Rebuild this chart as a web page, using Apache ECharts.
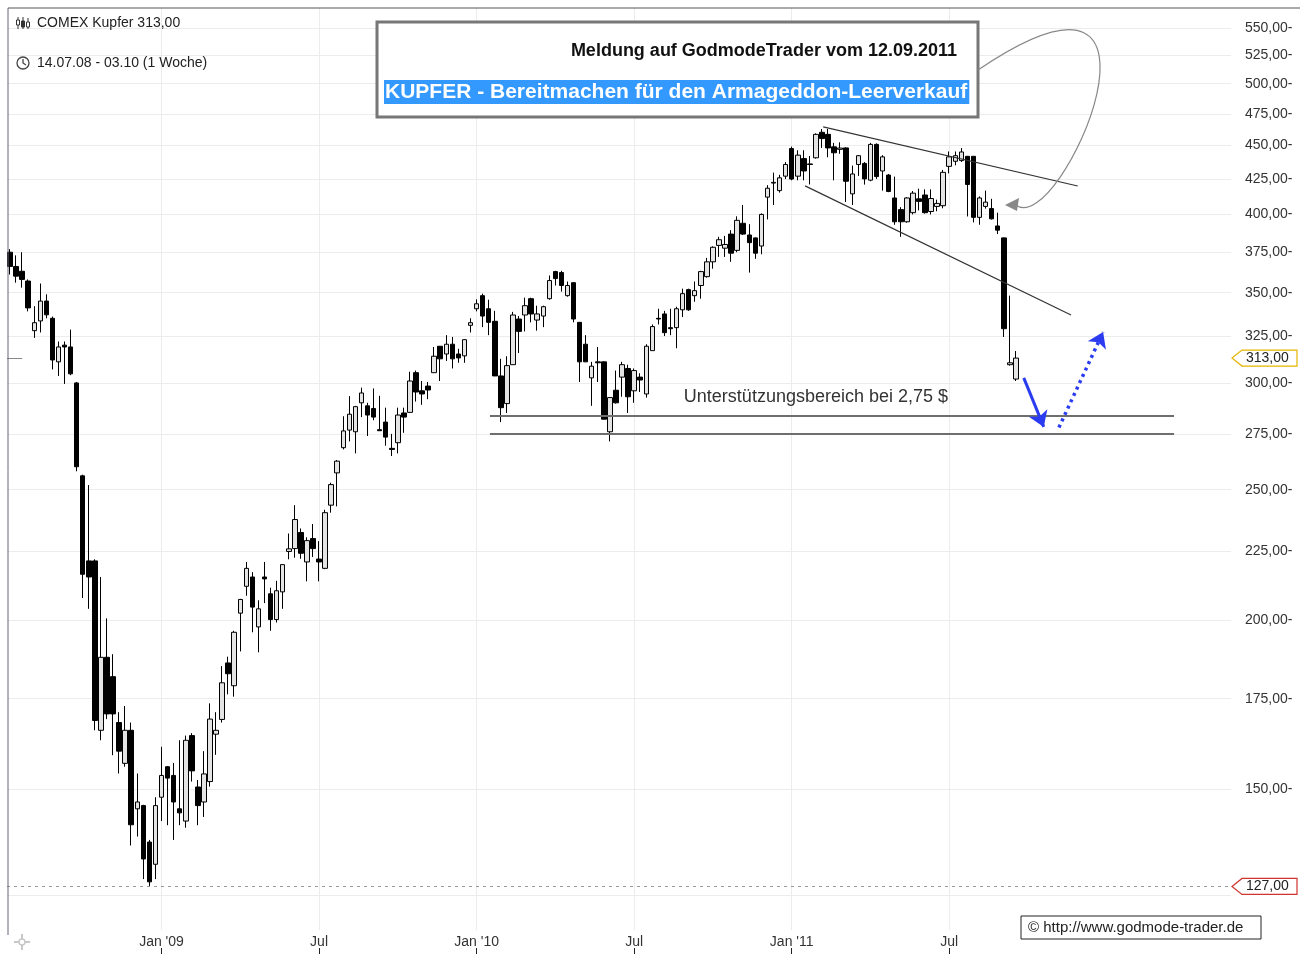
<!DOCTYPE html>
<html>
<head>
<meta charset="utf-8">
<script src="https://cdn.jsdelivr.net/npm/echarts@6/dist/echarts.min.js"></script>
<style>
  html, body { margin: 0; padding: 0; background: #fff; }
  #chart { width: 1304px; height: 954px; }
</style>
</head>
<body>
<div id="chart"></div>
<script>
// weekly candles, one row per week: [open, close, low, high]
const candles2008 = [
  [375, 366, 361, 377], [366, 360, 356, 373], [363, 358, 353, 375], [357, 341, 339, 358],
  [328, 332.5, 324, 342], [333.5, 345, 327, 355.5], [345, 337, 335, 349], [335, 312, 307, 336],
  [311, 319, 303.6, 322], [320, 319, 299.5, 322], [319, 304.7, 304, 328.6], [300, 260, 258, 300.5],
  [256, 216.4, 207.8, 256.5], [221.4, 215.4, 204, 252], [221.4, 168.6, 165.8, 222], [165.8, 187.8, 163, 215.4],
  [187.8, 170.5, 169, 200.7], [181.7, 170.5, 158.9, 188.8], [168, 160, 154, 171], [156.7, 165.8, 155.8, 172.8],
  [165.8, 141.1, 136.2, 168], [145, 146.7, 138.3, 154], [145.8, 133.1, 128.6, 146], [137, 128, 127, 137.5],
  [131.9, 145.8, 128.6, 147.9]
];
const candles2009 = [
  [147.9, 153.5, 142, 161.2], [155.8, 152.8, 141, 156], [153.5, 146.7, 137.5, 156.8], [145, 144, 141, 163],
  [142, 163, 140.4, 164.3], [164.3, 154.7, 151.9, 165], [150.5, 145.8, 141, 152.3], [146.7, 153.9, 143, 160],
  [151.9, 169, 150.6, 173.6], [164.7, 165.8, 159, 171], [168.9, 179.8, 168, 185], [186, 182.6, 176.3, 188],
  [178.9, 196, 175.6, 196.5], [202.5, 207.3, 189.7, 207.5], [212, 218.6, 208.6, 221], [215.4, 204.6, 196, 217.2],
  [197.8, 204, 189.4, 207], [215.4, 214.7, 206, 221], [209.3, 200.3, 196.5, 211.5], [200.3, 210.4, 199.3, 214],
  [210, 220, 204, 220.1], [225, 226, 222, 232], [226.1, 237.6, 222.6, 243.5], [232.4, 224.3, 222.2, 234],
  [221, 229.2, 213.8, 230.5], [230, 226.1, 222.9, 235.8], [222.1, 221, 213.8, 229], [218.6, 240.4, 218.3, 241.6],
  [243.5, 252.2, 240.4, 253], [257.3, 262.5, 243, 263], [268.6, 276.4, 267.8, 283.4], [276.8, 284.4, 271.5, 293.3],
  [276, 288.1, 266, 288.5], [290, 294.9, 283, 297.6], [288.5, 284, 274, 290], [287.2, 283, 281.5, 297.2],
  [277, 276.5, 276.5, 293.5], [280.6, 273.5, 269.5, 287.6], [268.3, 267.8, 264.8, 275], [270.9, 284, 266, 287.6],
  [285, 283, 275.5, 287.6], [285.3, 301, 285.3, 305.8], [305.3, 295.4, 290.6, 306.4], [296, 294.4, 289, 301],
  [298.4, 296.4, 291.8, 300.5], [305.3, 314, 305.3, 319], [319.4, 312.6, 301, 319.5], [315.2, 320.5, 311.5, 325.5],
  [320.5, 312.6, 307.5, 324.5], [315.2, 313.1, 310.5, 318], [314.2, 323, 310.5, 323.2], [331, 332.5, 327, 335]
];
const candles2010 = [
  [340.5, 343.4, 339, 346], [348.2, 336.3, 330, 349.4], [340.5, 332.7, 325.5, 345.8], [333.3, 303.6, 303.6, 339.3],
  [303.6, 287.6, 280.6, 312.6], [289.6, 309, 285, 314], [309.5, 336.9, 309.5, 338.7], [334.6, 327.6, 315.7, 336.3],
  [336.9, 342.3, 327.6, 347], [346.4, 337.5, 332.7, 347], [334, 337.5, 328, 342.3], [336.3, 341.7, 330, 342.3],
  [346.4, 357.3, 345.8, 360.4], [362.8, 358.5, 354.3, 363.3], [362.2, 354.3, 350.6, 363.3], [348.2, 354.3, 347.6, 356.7],
  [356, 334.6, 332.7, 356.2], [332.7, 311, 300.5, 332.8], [320.5, 311, 311, 325.5], [302.6, 308.7, 288.5, 311],
  [311, 310.5, 300.5, 319], [311, 282, 282, 311.2], [276, 292.6, 271.5, 292.6], [296.3, 290, 289.6, 306.4],
  [303, 309.5, 293, 311], [307.5, 293, 285, 309.5], [296, 306.4, 290, 307.5], [303, 301.5, 295.4, 305],
  [294.4, 319.4, 292.6, 320.5], [317, 330.3, 317, 331.5], [335, 334.6, 331.5, 340.5], [337.5, 326.9, 325, 339.3],
  [329.7, 329.1, 325.5, 340.5], [329.7, 340.5, 318.3, 341.7], [339.9, 349.4, 335.7, 352.4], [351.8, 339.9, 339.3, 352.4],
  [348.2, 351.2, 344.6, 356.7], [354.3, 362.8, 346.4, 363.3], [359.7, 368.9, 359.1, 371.4], [368.9, 378.2, 364.6, 378.8],
  [379.4, 383.1, 372, 385], [377.6, 380, 372, 385.6], [386.8, 374.4, 368.9, 389.4], [376.2, 396, 375, 398.7],
  [394, 386.8, 386.2, 406.5], [386.2, 381.2, 362.2, 393.4], [384.3, 374.4, 370.8, 384.5], [379, 400, 373.7, 400.7],
  [412, 418.3, 396.6, 420.5], [422, 422.5, 406.5, 429.6], [416.6, 425.8, 415.2, 428], [427, 435.6, 424.9, 437.4]
];
const candles2011 = [
  [447.6, 424.9, 424, 449.1], [427, 442.6, 424, 446.3], [440, 430.8, 424, 446.3], [436, 435.6, 421, 442],
  [440.6, 458.6, 440, 459.4], [460.2, 455.3, 448.1, 462.8], [458.6, 448.1, 441, 462.8], [448.9, 444.4, 424, 452],
  [447, 448, 443.6, 452.4], [448.1, 423.3, 408.6, 448.5], [414.3, 428.6, 406.5, 434.8], [435.6, 442.2, 427.2, 442.6],
  [436.4, 425, 420.9, 437.4], [424.1, 450.8, 423.3, 452], [450.8, 426.7, 425, 451.6], [430.8, 441.3, 416.6, 442.6],
  [427.8, 416, 415.5, 428.6], [411.4, 395, 393, 426.7], [403.3, 395, 385, 405], [395, 411.4, 394.4, 412],
  [401.2, 414.8, 400, 416.3], [410.8, 409, 402.8, 418], [413.5, 401.2, 400.6, 417.5], [402, 411, 400, 417.5],
  [405.5, 407.6, 402.2, 410.2], [406, 429.8, 404.2, 431.6], [434.2, 441.3, 429, 445.4], [438, 442.2, 435, 445.4],
  [438.5, 445, 437.5, 448], [441.7, 421, 398.6, 442], [441.7, 398, 394.6, 442], [398, 411.4, 393, 412.5],
  [405.5, 408.5, 404, 416.6], [404, 397, 396.5, 410.8], [392.2, 389.4, 386.8, 401.2], [384.3, 329.1, 324.5, 384.6],
  [309.5, 310.5, 309, 348.2], [302, 313, 301, 316.8]
];

const firstWeek = Date.UTC(2008, 6, 14);
const emptyWeeks = 35; // free space right of the last candle

const monthLabels = {
  "2009-01-05": "Jan '09", "2009-07-06": "Jul",
  "2010-01-04": "Jan '10", "2010-07-05": "Jul",
  "2011-01-03": "Jan '11", "2011-07-04": "Jul"
};

const priceTicks = [125, 150, 175, 200, 225, 250, 275, 300, 325, 350, 375, 400, 425, 450, 475, 500, 525, 550];
const priceLabels = priceTicks.filter((p) => p !== 125); // 125 sits under the low tag
const yMin = 117.9, yMax = 569;
const lastPrice = 313, lowPrice = 127;

// annotations, [week index, price]
const trendUpper = [[134.2, 464.5], [176.2, 419.9]];
const trendLower = [[131.2, 420], [175.1, 336.9]];
const supportLevels = [283.5, 275];
const supportSpan = [79.2, 192.1];
const supportText = [133, 292.9];
const arrowDown = [[167.3, 302.6], [170.6, 278.3]];
const arrowUp = [[173.1, 278], [180.4, 327.3]];

const FONT = '"Liberation Sans", Arial, sans-serif';
const lg = Math.log;

const candles = candles2008.concat(candles2009, candles2010, candles2011);
const N = candles.length + emptyWeeks;
const weeks = [];
for (let i = 0; i < N; i++) {
  weeks.push(new Date(firstWeek + i * 7 * 86400000).toISOString().slice(0, 10));
}
const labelIdx = weeks.map((w, i) => (monthLabels[w] ? i : -1)).filter((i) => i >= 0);

const pt = (p) => [p[0], lg(p[1])];
const seg = (a, b, style, endSymbol) => [
  { coord: pt(a), symbol: 'none', lineStyle: style },
  { coord: pt(b), symbol: endSymbol || 'none' }
];

const chart = echarts.init(document.getElementById('chart'));

chart.setOption({
  animation: false,
  backgroundColor: '#fff',
  textStyle: { fontFamily: FONT },
  grid: { left: 7, right: 73, top: 8, bottom: 24 },
  xAxis: [
    {
      type: 'category',
      data: weeks,
      boundaryGap: true,
      axisLine: { show: false },
      axisTick: { show: false },
      splitLine: { show: false },
      axisLabel: {
        interval: (i, v) => !!monthLabels[v],
        formatter: (v) => monthLabels[v] || '',
        fontSize: 14,
        color: '#333',
        margin: 5
      }
    },
    {
      type: 'value',
      min: -0.5,
      max: N - 0.5,
      position: 'bottom',
      offset: 18,
      axisLine: { show: false },
      axisLabel: { show: false },
      axisTick: { show: true, customValues: labelIdx, length: 6, lineStyle: { color: '#222' } },
      splitLine: { show: true, lineStyle: { color: '#ececec' } }
    }
  ],
  yAxis: {
    type: 'value',
    position: 'right',
    min: lg(yMin),
    max: lg(yMax),
    axisLine: { show: false },
    axisTick: { show: false, customValues: priceTicks.map(lg) },
    axisLabel: {
      customValues: priceLabels.map(lg),
      margin: 14,
      fontSize: 14,
      color: '#333',
      formatter: (v) => Math.round(Math.exp(v)) + ',00-'
    },
    splitLine: { show: true, lineStyle: { color: '#ececec' } }
  },
  series: [
    {
      type: 'candlestick',
      xAxisIndex: 0,
      yAxisIndex: 0,
      barWidth: 5,
      data: candles.map((c) => c.map(lg)),
      itemStyle: {
        color: '#e4e4e4',
        color0: '#000',
        borderColor: '#000',
        borderColor0: '#000',
        borderWidth: 1
      }
    },
    {
      type: 'line',
      xAxisIndex: 1,
      yAxisIndex: 0,
      data: [],
      markLine: {
        silent: true,
        animation: false,
        label: { show: false },
        symbolSize: 15,
        data: [
          [{ yAxis: lg(lowPrice), x: 7, symbol: 'none', lineStyle: { color: '#999', type: [3, 4], width: 1 } },
           { yAxis: lg(lowPrice), x: 1231, symbol: 'none' }],
          seg([-0.5, lastPrice], [2, lastPrice], { color: '#888', width: 1, type: 'solid' }),
          seg(trendUpper[0], trendUpper[1], { color: '#333', width: 1.2, type: 'solid' }),
          seg(trendLower[0], trendLower[1], { color: '#333', width: 1.2, type: 'solid' }),
          seg([supportSpan[0], supportLevels[0]], [supportSpan[1], supportLevels[0]], { color: '#6e6e6e', width: 2, type: 'solid' }),
          seg([supportSpan[0], supportLevels[1]], [supportSpan[1], supportLevels[1]], { color: '#6e6e6e', width: 2, type: 'solid' }),
          seg(arrowDown[0], arrowDown[1], { color: '#2b3cf0', width: 3, type: 'solid' }, 'arrow'),
          seg(arrowUp[0], arrowUp[1], { color: '#2b3cf0', width: 3.5, type: [3, 4] }, 'arrow')
        ]
      },
      markPoint: {
        silent: true,
        animation: false,
        symbolSize: 0,
        data: [{
          coord: pt(supportText),
          label: {
            show: true,
            position: 'inside',
            formatter: 'Unterstützungsbereich bei 2,75 $',
            fontSize: 18,
            color: '#333'
          }
        }]
      }
    }
  ]
});

// price tags at the right edge, placed through the y scale
function priceTag(price, color) {
  const y = chart.convertToPixel({ yAxisIndex: 0 }, lg(price));
  return {
    type: 'group',
    z: 100,
    children: [
      { type: 'polygon', shape: { points: [[1232, y], [1242, y - 8], [1297, y - 8], [1297, y + 8], [1242, y + 8]] },
        style: { fill: '#fff', stroke: color, lineWidth: 1.2 } },
      { type: 'text', x: 1246, y: y, style: { text: price.toFixed(2).replace('.', ','), font: '14px ' + FONT, fill: '#222', verticalAlign: 'middle' } }
    ]
  };
}

chart.setOption({
  graphic: [
    // frame
    { type: 'line', z: 100, shape: { x1: 8, y1: 8, x2: 1300, y2: 8 }, style: { stroke: '#555', lineWidth: 1 } },
    { type: 'line', z: 100, shape: { x1: 8, y1: 8, x2: 8, y2: 935 }, style: { stroke: '#667', lineWidth: 1 } },
    // header
    { type: 'group', z: 100, children: [
      { type: 'line', shape: { x1: 18, y1: 17, x2: 18, y2: 29 }, style: { stroke: '#333' } },
      { type: 'rect', shape: { x: 16.5, y: 20, width: 3, height: 5 }, style: { fill: '#fff', stroke: '#333' } },
      { type: 'line', shape: { x1: 23, y1: 17, x2: 23, y2: 29 }, style: { stroke: '#333' } },
      { type: 'rect', shape: { x: 21.5, y: 21, width: 3, height: 6 }, style: { fill: '#333', stroke: '#333' } },
      { type: 'line', shape: { x1: 28, y1: 18, x2: 28, y2: 29 }, style: { stroke: '#333' } },
      { type: 'rect', shape: { x: 26.5, y: 22, width: 3, height: 5 }, style: { fill: '#fff', stroke: '#333' } }
    ] },
    { type: 'text', z: 100, x: 37, y: 23, style: { text: 'COMEX Kupfer 313,00', font: '14px ' + FONT, fill: '#222', verticalAlign: 'middle' } },
    { type: 'circle', z: 100, shape: { cx: 23, cy: 63, r: 6 }, style: { fill: 'none', stroke: '#444', lineWidth: 1.3 } },
    { type: 'polyline', z: 100, shape: { points: [[23, 59], [23, 63], [26, 65]] }, style: { stroke: '#444', lineWidth: 1.3, fill: 'none' } },
    { type: 'text', z: 100, x: 37, y: 63, style: { text: '14.07.08 - 03.10 (1 Woche)', font: '14px ' + FONT, fill: '#222', verticalAlign: 'middle' } },
    // news box
    { type: 'rect', z: 100, shape: { x: 377, y: 22, width: 601, height: 95 }, style: { fill: '#fff', stroke: '#777', lineWidth: 3 } },
    { type: 'text', z: 101, x: 957, y: 51, style: { text: 'Meldung auf GodmodeTrader vom 12.09.2011', font: 'bold 18px ' + FONT, fill: '#111', align: 'right', verticalAlign: 'middle' } },
    { type: 'text', z: 101, x: 384, y: 92, style: { text: 'KUPFER - Bereitmachen für den Armageddon-Leerverkauf', font: 'bold 21px ' + FONT, fill: '#fff', backgroundColor: '#3399ff', padding: [2, 2, 1, 1], verticalAlign: 'middle' } },
    // connector from box to the candles
    { type: 'bezierCurve', z: 100, shape: { x1: 978, y1: 70, cpx1: 1200, cpy1: -80, cpx2: 1060, cpy2: 240, x2: 1016, y2: 205 }, style: { stroke: '#888', lineWidth: 1.2, fill: 'none' } },
    { type: 'polygon', z: 100, shape: { points: [[1005, 205], [1019, 198], [1017, 211]] }, style: { fill: '#888' } },
    // price tags
    priceTag(lastPrice, '#e6b400'),
    priceTag(lowPrice, '#d0342c'),
    // copyright
    { type: 'rect', z: 100, shape: { x: 1021, y: 916, width: 240, height: 23 }, style: { fill: '#fff', stroke: '#222', lineWidth: 1 } },
    { type: 'text', z: 101, x: 1028, y: 928, style: { text: '© http://www.godmode-trader.de', font: '15px ' + FONT, fill: '#222', verticalAlign: 'middle' } },
    // pan icon
    { type: 'group', z: 100, children: [
      { type: 'line', shape: { x1: 14, y1: 942, x2: 30, y2: 942 }, style: { stroke: '#c8c8c8', lineWidth: 2 } },
      { type: 'line', shape: { x1: 22, y1: 934, x2: 22, y2: 950 }, style: { stroke: '#c8c8c8', lineWidth: 2 } },
      { type: 'circle', shape: { cx: 22, cy: 942, r: 3 }, style: { fill: '#fff', stroke: '#c8c8c8', lineWidth: 1.5 } }
    ] }
  ]
});
</script>
</body>
</html>
